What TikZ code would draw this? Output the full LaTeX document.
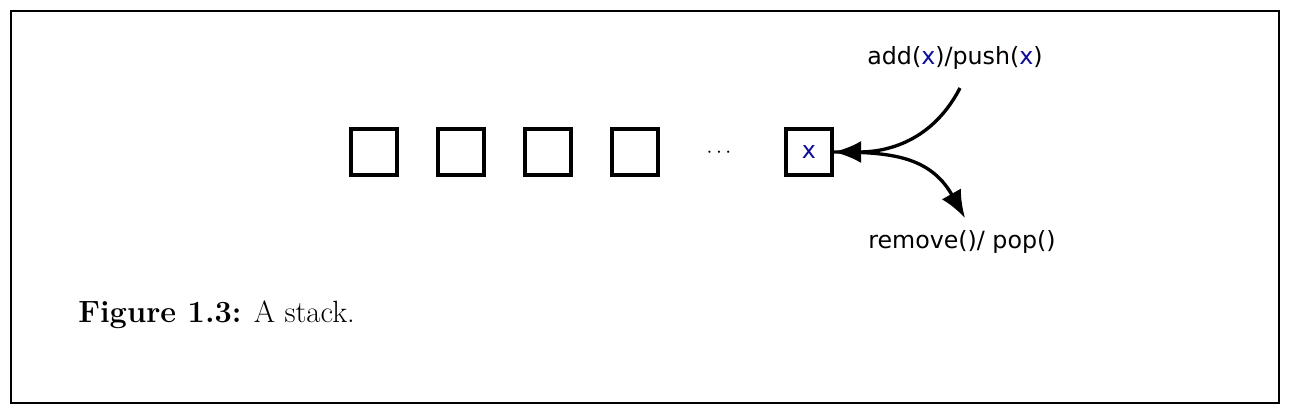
\documentclass[tikz,border=0pt]{standalone}
\usepackage{fontspec}
\usepackage{tikz}
\usetikzlibrary{arrows.meta}
\newfontfamily\opfont{DejaVu Sans}
\definecolor{varblue}{rgb}{0.05,0.05,0.6}

\begin{document}
\begin{tikzpicture}
   \useasboundingbox (0,0) rectangle (25.8,8.32);
   \draw[line width=1.2pt] (0.22,0.26) rectangle (25.58,8.10);
   \tikzstyle{cell}=[rectangle, minimum size=9.2mm, draw=black, line width=1.8pt, inner sep=0pt]
   \tikzstyle{op}=[font=\opfont\fontsize{13.5}{16}\selectfont]
   \tikzstyle{flow}=[line width=1.9pt, -{Latex[length=5.5mm,width=4.4mm]}]
   \foreach \i/\x in {1/7.48,2/9.22,3/10.96,4/12.70} {
       \node[cell] (c\i) at (\x,5.28) {};
   }
   \node[font=\fontsize{13}{15}\selectfont] (dots) at (14.38,5.27) {$\cdots$};
   \node[cell, op] (top) at (16.18,5.28) {\color{varblue}x};
   \coordinate (pushend) at (19.2,6.56);
   \coordinate (popend) at (19.3,3.96);
   \node[op] (push) at (19.1,7.16) {add(\textcolor{varblue}{x})/push(\textcolor{varblue}{x})};
   \node[op] (pop) at (19.24,3.48) {remove()/ pop()};
   \draw[flow] (pushend) .. controls (18.6,5.4) and (17.6,5.28) .. (top.east);
   \draw[flow] (top.east) .. controls (17.8,5.28) and (18.6,5.2) .. (popend);
   \node[anchor=base west, inner sep=0pt, font=\fontsize{17.5}{20}\selectfont] (caption) at (1.56,1.86) {\textbf{Figure 1.3:} A stack.};
\end{tikzpicture}
\end{document}
